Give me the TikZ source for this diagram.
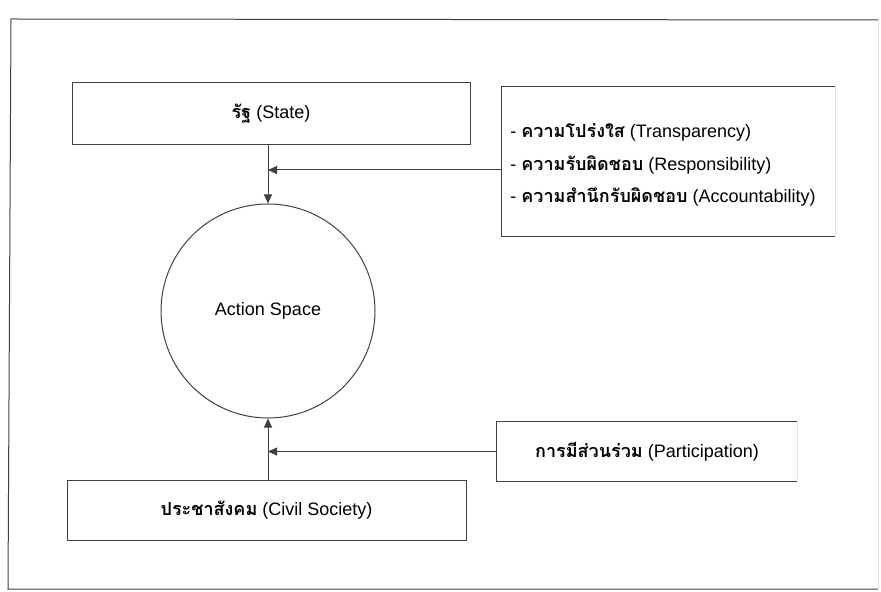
\documentclass[tikz,border=0pt]{standalone}
\usepackage{fontspec}
\setmainfont{Liberation Sans}
\newfontfamily\thai[Script=Thai]{Loma}
\usetikzlibrary{arrows.meta}
\newcommand{\thb}[1]{{\thai\bfseries #1}}
\tikzset{
  ln/.style={draw=black!75, line width=0.5pt},
  box/.style={rectangle, inner sep=0pt, font=\fontsize{9}{11}\selectfont},
  arr/.style={ln, -{Triangle[length=4.5pt,width=4pt]}},
  txt/.style={inner sep=0pt, anchor=west, font=\fontsize{9}{11}\selectfont}
}
\begin{document}
\begin{tikzpicture}[x=0.5pt,y=-0.5pt]
\useasboundingbox (0,0) rectangle (881,592);
% outer frame
\draw[ln] (878,20) -- (11,19) -- (8,589) -- (878,589);
\draw[draw=black!12, line width=0.5pt] (878,20) -- (878,589);
% state
\node[box, ln, minimum width=199pt, minimum height=31pt] (state) at (271,114) {\thb{รัฐ} (State)};
% action space
\node[circle, ln, inner sep=0pt, minimum size=107pt, font=\fontsize{9}{11}\selectfont] (circ) at (268,311) {Action Space};
% civil society
\node[box, ln, minimum width=199.5pt, minimum height=30pt] (civil) at (266.5,510) {\thb{ประชาสังคม} (Civil Society)};
% right top box
\node[box, minimum width=166.5pt, minimum height=74.5pt] (rbox) at (668.5,161.5) {};
\draw[ln] (rbox.north east) -- (rbox.north west) -- (rbox.south west) -- (rbox.south east);
\draw[draw=black!12, line width=0.5pt] (rbox.north east) -- (rbox.south east);
\node[txt] (t1) at (510,132) {- \thb{ความโปร่งใส} (Transparency)};
\node[txt] (t2) at (510,164.5) {- \thb{ความรับผิดชอบ} (Responsibility)};
\node[txt] (t3) at (510,197) {- \thb{ความสำนึกรับผิดชอบ} (Accountability)};
% participation box
\node[box, minimum width=150pt, minimum height=29.5pt] (part) at (647,451.5) {\thb{การมีส่วนร่วม} (Participation)};
\draw[ln] (part.north east) -- (part.north west) -- (part.south west) -- (part.south east);
\draw[draw=black!12, line width=0.5pt] (part.north east) -- (part.south east);
% connectors
\coordinate (j1) at (268,170);
\draw[arr] (circ.north |- state.south) -- (circ.north);
\draw[arr] (rbox.west |- j1) -- (j1);
\draw[arr] (civil.north -| circ.south) -- (circ.south);
\draw[arr] (part.west) -- (part.west -| circ.south);
\end{tikzpicture}
\end{document}
